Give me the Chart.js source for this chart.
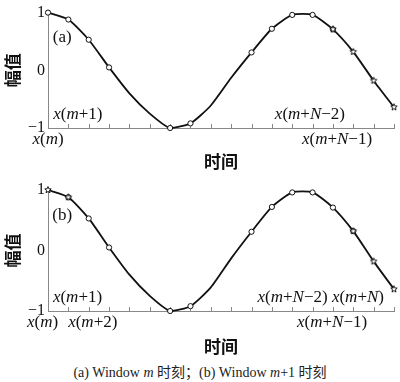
<!DOCTYPE html>
<html>
<head>
<meta charset="utf-8">
<script src="https://cdn.jsdelivr.net/npm/chart.js@4.4.1/dist/chart.umd.min.js"></script>
<style>
  body { margin: 0; background: #fff; }
  #wrap { position: relative; width: 400px; height: 382px; overflow: hidden; }
  #wrap canvas { position: absolute; left: 0; }
  #caption {
    position: absolute; left: 0; top: 361px; width: 400px; text-align: center;
    font: 14px "Liberation Serif", "Noto Sans CJK SC"; color: #222;
  }
</style>
</head>
<body>
<div id="wrap">
  <canvas id="panelA" width="400" height="174" style="top:0"></canvas>
  <canvas id="panelB" width="400" height="185" style="top:174px"></canvas>
  <div id="caption">(a) Window <i>m</i> 时刻；(b) Window <i>m</i>+1 时刻</div>
</div>

<script>
/* ================= DATA ================= */

const steps = [0, 1, 2, 3, 4, 5, 6, 7, 8, 9, 10, 11, 12, 13, 14, 15, 16, 17];
const amplitude = [1.0, 0.88, 0.53, 0.05, -0.40, -0.75, -1.0, -0.92, -0.61, -0.13,
                   0.31, 0.72, 0.96, 0.96, 0.71, 0.32, -0.18, -0.64];
const yTicks = [-1, 0, 1];

/* which samples carry a marker in each window */
const circlesA = [0, 1, 2, 3, 6, 7, 10, 11, 12, 13, 14];
const starsA = [14, 15, 16, 17];
const circlesB = [1, 2, 3, 6, 7, 10, 11, 12, 13, 14, 15];
const starsB = [0, 1, 15, 16, 17];

/* ================= HELPERS ================= */

const SERIF = "'Liberation Serif', 'Times New Roman', serif";
const CJK = "'Noto Sans CJK SC', sans-serif";
const AXIS = "#888";

function starMark(r) {
  const c = document.createElement("canvas");
  const size = Math.ceil(r * 2 + 3);
  c.width = c.height = size;
  const g = c.getContext("2d");
  g.translate(size / 2, size / 2);
  g.beginPath();
  for (let k = 0; k < 10; k++) {
    const rr = k % 2 ? r * 0.45 : r;
    const a = -Math.PI / 2 + k * Math.PI / 5;
    g.lineTo(rr * Math.cos(a), rr * Math.sin(a));
  }
  g.closePath();
  g.fillStyle = "#fff";
  g.fill();
  g.strokeStyle = "#111";
  g.lineWidth = 1;
  g.stroke();
  return c;
}

/* letters italic, everything else upright */
function drawRich(ctx, str, cx, cy, size) {
  const parts = str.split("").map(ch => ({ ch, it: /[a-zA-Z]/.test(ch) }));
  let total = 0;
  parts.forEach(p => {
    ctx.font = (p.it ? "italic " : "") + size + "px " + SERIF;
    p.w = ctx.measureText(p.ch).width;
    total += p.w;
  });
  let x = cx - total / 2;
  ctx.textBaseline = "middle";
  ctx.textAlign = "left";
  parts.forEach(p => {
    ctx.font = (p.it ? "italic " : "") + size + "px " + SERIF;
    ctx.fillText(p.ch, x, cy);
    x += p.w;
  });
}

const notesPlugin = {
  id: "notes",
  beforeDatasetsDraw(chart) {
    /* inward tick marks on the time axis */
    const { ctx, scales: { x }, chartArea } = chart;
    ctx.save();
    ctx.strokeStyle = AXIS;
    ctx.lineWidth = 1;
    steps.forEach(v => {
      const px = Math.round(x.getPixelForValue(v)) + 0.5;
      ctx.beginPath();
      ctx.moveTo(px, chartArea.bottom);
      ctx.lineTo(px, chartArea.bottom - 4);
      ctx.stroke();
    });
    ctx.restore();
  },
  afterDraw(chart, args, opts) {
    const { ctx, scales: { x, y }, chartArea } = chart;
    ctx.save();
    ctx.fillStyle = "#111";
    (opts.labels || []).forEach(l => {
      const cy = l.row === "above" ? chartArea.bottom - 13 : chartArea.bottom + 12;
      drawRich(ctx, l.text, x.getPixelForValue(l.at), cy, 17);
    });
    ctx.font = "17px " + SERIF;
    ctx.textAlign = "center";
    ctx.textBaseline = "middle";
    ctx.fillText(opts.tag, x.getPixelForValue(0.7), y.getPixelForValue(0.57));
    ctx.restore();
  },
};

/* ================= PANELS ================= */

function makePanel(id, circles, stars, tag, labels, padTop, xHeight) {
  const pts = idx => idx.map(i => ({ x: steps[i], y: amplitude[i] }));

  return new Chart(document.getElementById(id), {
    type: "line",
    data: {
      datasets: [
        {
          data: steps.map((s, i) => ({ x: s, y: amplitude[i] })),
          borderColor: "#111",
          borderWidth: 1.8,
          pointRadius: 0,
          tension: 0.2,
          clip: false,
          order: 3,
        },
        {
          data: pts(circles),
          showLine: false,
          pointStyle: "circle",
          pointRadius: 2.6,
          pointBorderWidth: 1,
          pointBorderColor: "#111",
          pointBackgroundColor: "#fff",
          clip: false,
          order: 2,
        },
        {
          data: pts(stars),
          showLine: false,
          pointStyle: starMark(3.4),
          clip: false,
          order: 1,
        },
      ],
    },
    options: {
      responsive: false,
      animation: false,
      devicePixelRatio: 1,
      layout: { padding: { top: padTop, right: 6, left: 0, bottom: 0 } },
      plugins: {
        legend: { display: false },
        tooltip: { enabled: false },
        notes: { tag, labels },
      },
      scales: {
        x: {
          type: "linear",
          min: 0,
          max: 17,
          afterFit: s => { s.height = xHeight; },
          ticks: { display: false },
          grid: { display: false },
          border: { display: true, color: AXIS, width: 1 },
          title: {
            display: true,
            text: "时间",
            color: "#111",
            font: { family: CJK, size: 17, weight: "bold" },
            padding: { top: 0, bottom: 2 },
          },
        },
        y: {
          min: -1,
          max: 1,
          afterFit: s => { s.width = 48; },
          afterBuildTicks: s => { s.ticks = yTicks.map(v => ({ value: v })); },
          ticks: {
            color: "#111",
            padding: 3,
            font: { family: SERIF, size: 16 },
            callback: v => String(v).replace("-", "−"),
          },
          grid: { display: false, drawTicks: false },
          border: { display: true, color: AXIS, width: 1 },
          title: {
            display: true,
            text: "幅值",
            color: "#111",
            font: { family: CJK, size: 17, weight: "bold" },
            padding: { top: 2, bottom: 0 },
          },
        },
      },
    },
    plugins: [notesPlugin],
  });
}

makePanel("panelA", circlesA, starsA, "(a)", [
  { text: "x(m)", at: 0, row: "below" },
  { text: "x(m+1)", at: 1.47, row: "above" },
  { text: "x(m+N−2)", at: 12.87, row: "above" },
  { text: "x(m+N−1)", at: 14.2, row: "below" },
], 7, 46);

makePanel("panelB", circlesB, starsB, "(b)", [
  { text: "x(m)", at: -0.27, row: "below" },
  { text: "x(m+2)", at: 2.2, row: "below" },
  { text: "x(m+1)", at: 1.45, row: "above" },
  { text: "x(m+N−2) x(m+N)", at: 13.4, row: "above" },
  { text: "x(m+N−1)", at: 13.96, row: "below" },
], 16, 48);
</script>
</body>
</html>
